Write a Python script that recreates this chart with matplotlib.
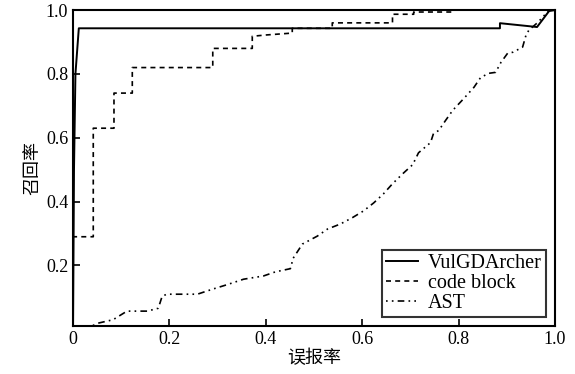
import matplotlib.pyplot as plt

plt.rcParams['font.family'] = ['Liberation Serif', 'Noto Sans CJK SC']

# VulGDArcher curve
vul_x = [0.0, 0.002, 0.005, 0.012, 0.886, 0.886, 0.963, 0.988, 1.0]
vul_y = [0.0, 0.5, 0.80, 0.943, 0.943, 0.959, 0.947, 0.997, 1.0]

# code block curve (step)
cb_x = [0.0, 0.0, 0.042, 0.042, 0.085, 0.085, 0.123, 0.123, 0.29, 0.29, 0.372, 0.372,
        0.40, 0.455, 0.455, 0.538, 0.538, 0.663, 0.663, 0.707, 0.707, 0.79, 0.79, 1.0]
cb_y = [0.0, 0.29, 0.29, 0.63, 0.63, 0.74, 0.74, 0.82, 0.82, 0.88, 0.88, 0.918,
        0.922, 0.928, 0.943, 0.943, 0.96, 0.96, 0.987, 0.987, 0.994, 0.994, 1.0, 1.0]

# AST curve
ast_x = [0.03, 0.054, 0.083, 0.112, 0.154, 0.177, 0.185, 0.195, 0.258, 0.29, 0.32,
         0.354, 0.395, 0.42, 0.451, 0.457, 0.476, 0.507, 0.528, 0.555, 0.58, 0.603,
         0.624, 0.644, 0.663, 0.684, 0.705, 0.717, 0.742, 0.748, 0.759, 0.773, 0.788,
         0.811, 0.832, 0.846, 0.863, 0.877, 0.888, 0.902, 0.913, 0.933, 0.94, 0.946,
         0.965, 0.988]
ast_y = [0.005, 0.02, 0.03, 0.057, 0.057, 0.066, 0.104, 0.11, 0.11, 0.126, 0.14,
         0.157, 0.167, 0.18, 0.19, 0.223, 0.267, 0.292, 0.314, 0.33, 0.35, 0.371,
         0.396, 0.424, 0.456, 0.487, 0.516, 0.553, 0.585, 0.613, 0.623, 0.654, 0.686,
         0.723, 0.758, 0.789, 0.802, 0.805, 0.836, 0.865, 0.868, 0.884, 0.921, 0.937,
         0.962, 1.0]

x_ticks = [0, 0.2, 0.4, 0.6, 0.8, 1.0]
x_labels = ['0', '0.2', '0.4', '0.6', '0.8', '1.0']
y_ticks = [0.2, 0.4, 0.6, 0.8, 1.0]
y_labels = ['0.2', '0.4', '0.6', '0.8', '1.0']

fig = plt.figure(figsize=(5.75, 3.74), dpi=100)
ax = fig.add_axes([0.127, 0.128, 0.838, 0.845])

ax.plot(vul_x, vul_y, color='black', lw=1.4, label='VulGDArcher')
ax.plot(cb_x, cb_y, color='black', lw=1.2, linestyle=(0, (3, 2.5)), label='code block')
ax.plot(ast_x, ast_y, color='black', lw=1.2, linestyle=(0, (1, 2.5, 1, 2.5, 4, 2.5)), label='AST')

ax.set_xlim(0, 1.0)
ax.set_ylim(0.01, 1.0)
ax.set_xticks(x_ticks)
ax.set_xticklabels(x_labels)
ax.set_yticks(y_ticks)
ax.set_yticklabels(y_labels)
ax.tick_params(direction='in', length=5, width=1.2, labelsize=13, colors='black')
for s in ax.spines.values():
    s.set_linewidth(1.5)

ax.set_xlabel('误报率', fontsize=13, labelpad=1)
ax.set_ylabel('召回率', fontsize=13, labelpad=3)

leg = ax.legend(loc='lower right', fontsize=14.5, frameon=True, fancybox=False,
                handlelength=1.6, handletextpad=0.5, borderpad=0.2, labelspacing=0.05,
                borderaxespad=0.45)
leg.get_frame().set_edgecolor('black')
leg.get_frame().set_linewidth(1.5)

plt.savefig('out.png')
